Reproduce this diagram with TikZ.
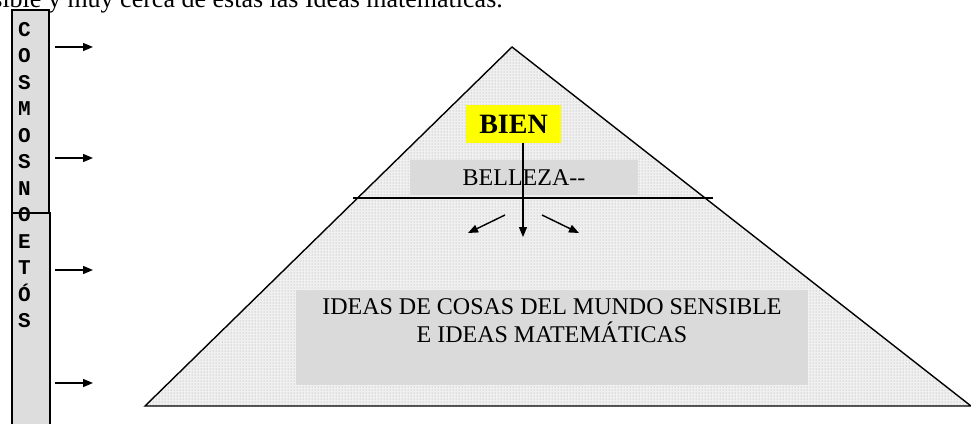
\documentclass[tikz,border=0pt]{standalone}
\usepackage{fontspec}
\setmainfont{Liberation Serif}
\newfontfamily\monob{Liberation Mono}
\usetikzlibrary{arrows.meta,patterns}
\definecolor{boxgray}{RGB}{218,218,218}
\definecolor{colgray}{RGB}{221,221,221}
\definecolor{bienyellow}{RGB}{255,255,0}
\tikzset{
  arr/.style={line width=1.4pt,-{Triangle[length=10pt,width=8pt]}},
  graybox/.style={fill=boxgray,draw=none,inner sep=0pt},
  colbox/.style={fill=colgray,draw=black,line width=1.5pt},
  letter/.style={anchor=base,inner sep=0pt,font=\monob\bfseries\fontsize{21}{21}\selectfont},
  serif24/.style={font=\fontsize{24}{28}\selectfont,inner sep=0pt}
}
\begin{document}
\begin{tikzpicture}[x=1pt,y=-1pt]
\useasboundingbox (0,0) rectangle (971,423);
% cut-off text line at top
\node[font=\fontsize{26}{30}\selectfont,inner sep=0pt,anchor=base east] (toptext) at (503,7) {sible y muy cerca de estas las Ideas matemáticas.};
% pyramid
\coordinate (apex) at (512,47);
\coordinate (bl) at (145,406);
\coordinate (br) at (971,406);
\fill[white!94!black] (apex) -- (br) -- (bl) -- cycle;
\fill[pattern=dots,pattern color=black!38] (apex) -- (br) -- (bl) -- cycle;
\draw[line width=1.4pt,line join=miter] (apex) -- (br) -- (bl) -- cycle;
% boxes
\node[graybox,minimum width=228pt,minimum height=35pt,serif24] (belleza) at (524,177.5) {BELLEZA-{}-};
\node[graybox,minimum width=512pt,minimum height=95pt] (ideasbox) at (552,337.5) {};
\node[serif24,align=center] (ideas) at (552,321) {IDEAS DE COSAS DEL MUNDO SENSIBLE\\E IDEAS MATEMÁTICAS};
\node[fill=bienyellow,inner sep=0pt,minimum width=95pt,minimum height=38pt,font=\bfseries\fontsize{28}{28}\selectfont] (bien) at (513.5,124) {BIEN};
% divider line
\coordinate (hl) at (353,198);
\coordinate (hr) at (713,198);
\draw[line width=1.4pt] (hl) -- (hr);
% arrows from BIEN
\coordinate (vdown) at (523,237);
\draw[arr] (bien.south -| vdown) -- (vdown);
\coordinate (ls) at (505,215);
\coordinate (le) at (468,233);
\coordinate (rs) at (542,215);
\coordinate (re) at (579,233);
\draw[arr] (ls) -- (le);
\draw[arr] (rs) -- (re);
% left column
\draw[colbox] (12,213) rectangle (50,440);
\draw[colbox] (12,10) rectangle (49,213);
\foreach \l [count=\i from 0] in {C,O,S,M,O,S,N,O,E,T,Ó,S}{
  \node[letter] (l\i) at (24.5,36+26.5*\i) {\l};
}
% column arrows
\foreach \y [count=\k] in {47,158,270,383}{
  \coordinate (cs\k) at (55,\y);
  \coordinate (ce\k) at (93,\y);
  \draw[arr] (cs\k) -- (ce\k);
}
\end{tikzpicture}
\end{document}
